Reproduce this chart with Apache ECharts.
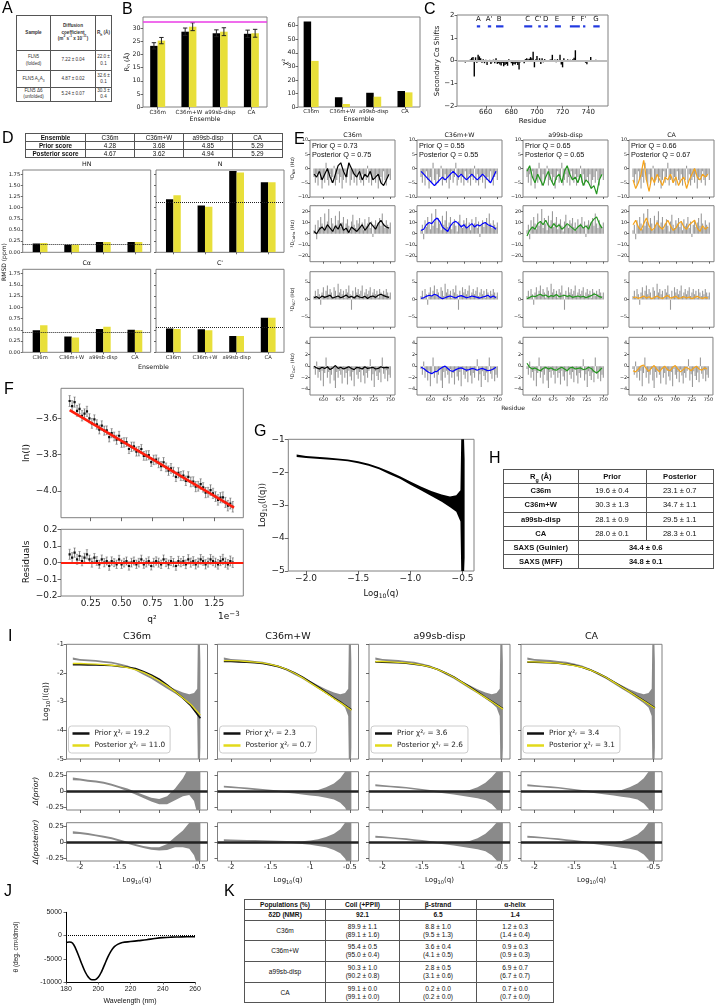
<!DOCTYPE html>
<html><head><meta charset="utf-8"><title>FLN5 ensemble figure</title>
<script src="https://cdn.jsdelivr.net/npm/echarts@6.0.0/dist/echarts.min.js"></script>
<style>
html,body{margin:0;padding:0;background:#fff;width:716px;height:1008px;overflow:hidden;}
#chart{position:absolute;left:0;top:0;width:716px;height:1008px;}
.plab{position:absolute;font-family:"Liberation Sans",Arial,sans-serif;font-size:16px;line-height:16px;color:#000;z-index:5;}
table.t{position:absolute;border-collapse:collapse;table-layout:fixed;font-family:"Liberation Sans",Arial,sans-serif;color:#111;background:#fff;z-index:5;}
table.t td{border:1px solid #555;text-align:center;vertical-align:middle;padding:0;overflow:hidden;white-space:nowrap;}
table.t sub, table.t sup{font-size:70%;line-height:0;}
</style></head>
<body>
<div id="chart"></div>
<div class="plab" style="left:2px;top:0px">A</div>
<div class="plab" style="left:122px;top:1px">B</div>
<div class="plab" style="left:424px;top:1px">C</div>
<div class="plab" style="left:2px;top:130px">D</div>
<div class="plab" style="left:294px;top:131px">E</div>
<div class="plab" style="left:4px;top:381px">F</div>
<div class="plab" style="left:254px;top:423px">G</div>
<div class="plab" style="left:489px;top:450px">H</div>
<div class="plab" style="left:8px;top:628px">I</div>
<div class="plab" style="left:4px;top:883px">J</div>
<div class="plab" style="left:224px;top:883px">K</div>
<table class="t" id="tA" style="left:16px;top:15px;width:95px;height:85px;font-size:4.6px;line-height:6.4px;color:#333;"></table>
<table class="t" id="tD" style="left:25px;top:133px;width:257px;height:23px;font-size:6.3px;line-height:7px;"></table>
<table class="t" id="tH" style="left:503px;top:469px;width:210px;height:99px;font-size:7.6px;line-height:9px;"></table>
<table class="t" id="tK" style="left:244px;top:899px;width:309px;height:104px;font-size:6.6px;line-height:8px;"></table>
<script>
// ================= DATA =================
const ensembles = ['C36m', 'C36m+W', 'a99sb-disp', 'CA'];
const catPos = [0, 1, 2, 3];

// A : diffusion table
const aHeader = ['Sample', 'Diffusion<br>coefficient<br>(m<sup>2</sup> s<sup>-1</sup> x 10<sup>-11</sup>)', 'R<sub>h</sub> (Å)'];
const aSamples = ['FLN5<br>(folded)', 'FLN5 A<sub>3</sub>A<sub>3</sub>', 'FLN5 Δ6<br>(unfolded)'];
const aDiff = ['7.22 ± 0.04', '4.87 ± 0.02', '5.24 ± 0.07'];
const aRh = ['22.0 ±<br>0.1', '32.6 ±<br>0.1', '30.3 ±<br>0.4'];

// B : hydrodynamic radius and chi2
const rhPrior = [23.3, 28.7, 28.1, 27.9];
const rhPriorErr = [1.2, 1.4, 1.3, 1.4];
const rhPost = [25.3, 30.6, 28.7, 28.1];
const rhPostErr = [1.2, 1.5, 1.5, 1.5];
const rhExpA3A3 = 32.6;
const chiPrior = [63.0, 7.2, 10.5, 11.8];
const chiPost = [34.0, 2.2, 7.6, 10.8];

// C : secondary C-alpha shifts
const csRes = [644,645,646,647,648,649,650,651,652,653,654,655,656,657,658,659,660,661,662,663,
  664,665,666,667,668,669,670,671,672,673,674,675,676,677,678,679,680,681,682,683,
  684,685,686,687,688,689,690,691,692,693,694,695,696,697,698,699,700,701,702,703,
  704,705,706,707,708,709,710,711,712,713,714,715,716,717,718,719,720,721,722,723,
  724,725,726,727,728,729,730,731,732,733,734,735,736,737,738,739,740,741,742,743,
  744,745,746,747,748];
const csVal = [-0.09,0,0,0,0.05,0.12,0.15,-0.70,0.14,-0.10,
  0.25,0.18,0.10,-0.10,0.06,-0.12,0.03,-0.20,-0.05,0.03,
  -0.15,-0.08,0.04,-0.12,0.10,-0.15,-0.12,-0.18,-0.22,-0.10,
  -0.25,-0.20,-0.15,-0.23,0.05,-0.05,-0.12,-0.22,-0.15,-0.18,
  -0.10,-0.20,-0.40,-0.08,0.02,-0.06,-0.12,0.06,0.10,0.05,
  0.08,0.15,0.10,0.38,-0.30,0.05,0.20,-0.07,0.10,-0.15,
  0.10,-0.08,0.06,-0.03,0,-0.04,0.03,0.06,0.25,-0.06,
  0.04,-0.08,0.06,0.02,0.25,-0.18,-0.30,0.10,-0.04,0,
  0.05,0,0.03,0,0.05,0.12,0.45,-0.05,0,-0.03,
  0,-0.03,0,-0.02,-0.10,-0.16,-0.05,0,0.15,0,
  0.02,0,0.03,0,0];
const ssNames = ['A', "A'", 'B', 'C', "C'", 'D', 'E', 'F', "F'", 'G'];
const ssLabelRes = [654.3, 662.6, 670.4, 692.8, 701.0, 706.8, 715.6, 728.3, 736.3, 746.0];
const ssStart = [653.0, 661.6, 668.0, 690.0, 701.0, 705.8, 714.0, 725.7, 736.0, 744.0];
const ssEnd = [655.6, 664.2, 673.8, 696.3, 703.0, 708.4, 718.7, 733.5, 737.8, 749.0];

// D : chemical shift RMSD
const dScorePrior = ['4.28', '3.68', '4.85', '5.29'];
const dScorePost = ['4.67', '3.62', '4.94', '5.29'];
const rmsdTitles = ['HN', 'N', 'Cα', "C'"];
const rmsdHNPrior = [0.20, 0.17, 0.23, 0.23], rmsdHNPost = [0.21, 0.17, 0.23, 0.23];
const rmsdNPrior = [1.19, 1.05, 1.82, 1.57], rmsdNPost = [1.28, 1.02, 1.79, 1.57];
const rmsdCAPrior = [0.49, 0.35, 0.52, 0.50], rmsdCAPost = [0.60, 0.33, 0.57, 0.49];
const rmsdCOPrior = [0.53, 0.51, 0.36, 0.77], rmsdCOPost = [0.52, 0.49, 0.36, 0.77];
const rmsdRef = [0.18, 1.12, 0.45, 0.545];

// E : RDCs
const rdcQPrior = [0.73, 0.55, 0.65, 0.66];
const rdcQPost = [0.75, 0.55, 0.65, 0.67];
const rdcResExp = [636,638,640,642,644,646,648,650,652,654,656,658,660,662,664,666,668,670,672,674,
  676,678,680,682,684,686,688,690,692,694,696,698,700,702,704,706,708,710,712,714,
  716,718,720,722,724,726,728,730,732,734,736,738,740,742,744,746,748,750];
const rdcResCalc = [636,640,644,648,652,656,660,664,668,672,676,680,684,688,692,696,700,704,708,712,
  716,720,724,728,732,736,740,744,748];
const expNH = [-3,-5,-2,-6,-1,-4,-7,-3,-5,2, -4,-6,-2,-5,-3,1,-6,-4,-2,-5, -3,-7,-4,-1,-5,-3,2,-6,-4,-2,
  -5,-3,-6,-1,-4,-5,-2,-6,-3,-4, 1,-5,-2,-6,-4,-3,-5,-2,-7,-4, -3,-5,-1,-4,-6,-3,-2,-4];
const expCH = [3,8,-5,12,6,15,9,4,18,7, 11,22,5,14,9,3,16,8,12,20, 6,10,15,4,9,13,7,2,11,17,
  8,5,12,9,14,6,10,3,13,7, 9,15,5,11,-3,8,12,6,10,14, 7,18,9,5,12,8,6,10];
const expNC = [1,2.5,0.5,3,1.5,-1.5,2,3.5,1,2.5, 4,1.5,3,2,0.5,3.5,2.5,1,4.5,2, 3,1.5,2.5,0.5,3,2,4,1.5,-3,2.5,
  1,3.5,2,3,1.5,2.5,4,1,2,3, 1.5,2.5,3.5,1,2,3,1.5,2.5,0.5,3, 2,1,2.5,1.5,3,2,1,2];
const expCC = [-0.5,-1.5,0.8,-2,-1,-2.5,-0.8,-3.5,-1.2,1.5, -2,-1,-3,-1.5,-0.5,-2.5,-3.8,-1,-2,-0.8,
  -1.5,-3,-0.5,-2,-1.2,-3.2,-0.8,-1.8,-2.5,-1, -3.5,-0.5,-1.5,-2.2,-1,-2.8,-0.6,-1.6,-3,-1.2,
  -2,-0.8,1.2,-2.5,-1.4,-3.6,-0.9,-1.7,-2.4,-1.1, -2.8,1.5,-1.3,-2.2,-0.7,-2.6,-1.5,-2];
const nhC36m = [-2,-3,-1,-4,-2,0,-3,-5,-2,1, 2,-1,-3,2,0,-2,-3,-1,-4,-2, -3,-1,-4,-3,-2,-5,-6,-4,-2];
const nhC36mW = [-1,-2,-3,-4,-5,-6,-5,-4,-3,-4, -3,-2,-1,-2,-3,-2,-3,-4,-3,-2, -3,-4,-3,-2,-3,-4,-5,-3,-1];
const nhA99 = [-1,1,-3,-5,-2,-4,-6,-3,-1,-4, -6,-3,-2,-5,-1,1,-2,-4,-3,-5, -2,-6,-4,-5,-7,-6,-9,-4,-2];
const nhCA = [-4,-7,-5,-2,3,-4,-8,-3,-5,-2, -4,-6,-3,-4,-2,-5,-3,-6,-4,-3, -7,-4,-2,0,-3,-4,-2,-3,-2];
const chC36m = [2,0,4,6,3,8,5,2,7,4, 9,3,5,1,6,4,2,5,8,3, 6,10,7,4,9,12,8,6,5];
const chC36mW = [3,4,8,10,9,12,14,11,6,4, 2,7,10,11,9,6,8,5,7,9, 6,8,7,9,10,8,7,6,4];
const chA99 = [-2,3,6,4,9,11,8,12,7,5, 9,6,8,4,6,9,7,5,3,6, 8,5,7,4,10,13,15,9,5];
const chCA = [8,12,6,3,9,14,7,3,5,10, 6,4,8,12,7,3,5,9,11,6, 4,8,10,12,5,2,7,4,6];
const ncC36m = [0.5,0.8,0.3,1,0.6,0.9,1.2,0.4,0.7,1, 0.5,0.8,1.3,0.6,0.9,0.4,1.1,0.7,0.5,0.9, 0.3,0.8,1,0.6,1.2,1.5,1.1,0.8,0.6];
const ncC36mW = [0.3,0.5,0.9,1.2,1.0,1.5,1.2,0.6,0.2,0.5, 0.8,1.0,0.7,0.4,0.9,1.1,0.8,0.5,0.7,1.0, 0.8,0.6,0.4,0.7,0.9,1.2,0.6,1.0,0.5];
const ncA99 = [0.2,0.6,1.0,0.8,1.2,1.5,1.0,1.3,0.7,1.1, 0.9,1.4,0.8,1.0,1.2,0.9,1.1,0.6,0.8,1.0, 0.7,0.9,0.5,0.8,1.1,1.6,1.3,0.8,0.6];
const ncCA = [0.5,0.7,0.3,0.6,1.0,0.4,0.8,0.2,0.6,1.0, 0.5,0.3,0.8,1.1,0.4,0.6,0.9,0.3,0.5,0.8, 0.4,0.7,0.2,0.6,0.9,0.5,0.3,0.6,0.4];
const ccC36m = [0,-0.3,-0.5,-0.2,-0.4,-0.1,-0.6,-0.3,0.1,-0.4, -0.2,-0.5,-0.3,-0.1,-0.4,-0.6,-0.2,-0.3,-0.5,-0.1, -0.4,-0.3,-0.2,-0.5,-0.4,-0.1,-0.3,-0.2,-0.3];
const ccC36mW = [-0.2,-0.4,-0.8,-1.1,-1.3,-1.0,-0.9,-0.5,-0.2,0, -0.4,-0.8,-0.9,-0.6,-0.4,-0.3,-0.5,-0.7,-0.6,-0.4, -0.5,-0.7,-0.5,-0.4,-0.6,-0.8,-0.7,-0.5,-0.2];
const ccA99 = [0.5,-0.2,-0.5,-0.3,-0.6,-0.8,-0.4,-0.2,-0.5,-0.3, -0.6,-0.7,-0.4,-0.2,-0.5,-0.8,-0.3,-0.2,-0.5,-0.4, -0.3,-0.6,-0.5,-0.2,-0.4,-0.9,-1.2,-0.8,-0.3];
const ccCA = [-0.8,-1.0,-0.5,0,0.2,-0.4,-0.9,-0.3,0.1,-0.5, -1.0,-0.4,0,-0.6,-0.8,-0.2,0.1,-0.5,-1.0,-0.6, -0.2,-0.4,-0.8,-0.3,0,-0.5,-0.7,-0.3,-0.5];

// F : Guinier plot
const fQ2 = [0.08,0.10,0.12,0.14,0.16,0.18,0.20,0.22,0.24,0.26,0.28,0.30,0.32,0.34,0.36,0.38,0.40,0.42,0.44,0.46,
  0.48,0.50,0.52,0.54,0.56,0.58,0.60,0.62,0.64,0.66,0.68,0.70,0.72,0.74,0.76,0.78,0.80,0.82,0.84,0.86,
  0.88,0.90,0.92,0.94,0.96,0.98,1.00,1.02,1.04,1.06,1.08,1.10,1.12,1.14,1.16,1.18,1.20,1.22,1.24,1.26,
  1.28,1.30,1.32,1.34,1.36,1.38,1.40];
const fLnI = [-3.505,-3.533,-3.511,-3.559,-3.548,-3.586,-3.574,-3.562,-3.600,-3.628,
  -3.606,-3.634,-3.662,-3.640,-3.668,-3.666,-3.704,-3.682,-3.700,-3.718,
  -3.696,-3.735,-3.733,-3.731,-3.769,-3.757,-3.755,-3.783,-3.781,-3.769,
  -3.807,-3.805,-3.803,-3.841,-3.829,-3.827,-3.845,-3.863,-3.842,-3.870,
  -3.888,-3.876,-3.894,-3.922,-3.900,-3.918,-3.916,-3.944,-3.922,-3.950,
  -3.948,-3.976,-3.974,-3.962,-3.980,-4.009,-4.007,-3.995,-4.013,-4.031,
  -4.049,-4.037,-4.035,-4.063,-4.081,-4.069,-4.087];
const fErr = [0.03,0.03,0.028,0.03,0.027,0.029,0.026,0.028,0.025,0.027,
  0.025,0.026,0.024,0.026,0.025,0.024,0.026,0.025,0.024,0.025,
  0.024,0.025,0.026,0.024,0.025,0.026,0.024,0.025,0.026,0.025,
  0.024,0.026,0.025,0.024,0.026,0.025,0.027,0.025,0.026,0.024,
  0.026,0.027,0.025,0.026,0.028,0.025,0.027,0.026,0.028,0.027,
  0.026,0.028,0.027,0.029,0.026,0.028,0.027,0.029,0.028,0.027,
  0.029,0.028,0.030,0.028,0.029,0.030,0.029];
const fRes = [0.05,0.03,0.06,0.02,0.04,0.01,0.03,0.05,0.02,0.0,
  0.03,0.01,-0.01,0.02,0.0,0.01,-0.02,0.01,0.0,-0.01,
  0.02,-0.01,0.0,0.01,-0.02,0.0,0.01,-0.01,0.0,0.02,
  -0.01,0.0,0.01,-0.02,0.0,0.01,0.0,-0.01,0.02,0.0,
  -0.01,0.01,0.0,-0.02,0.01,0.0,0.01,-0.01,0.02,0.0,
  0.01,-0.01,0.0,0.02,0.01,-0.01,0.0,0.02,0.01,0.0,
  -0.01,0.01,0.02,0.0,-0.01,0.01,0.0];
const fFitQ2 = [0.08, 1.41];
const fFitLnI = [-3.555, -4.091];

// G / I : SAXS data (log10 I vs log10 q), lower and upper envelope of the noisy data
const gQ = [-2.09,-2.0,-1.9,-1.8,-1.7,-1.6,-1.5,-1.4,-1.3,-1.2,-1.1,-1.0,-0.9,-0.8,-0.7,-0.62,-0.56,-0.52,-0.51,-0.49,-0.48];
const gLow = [-1.54,-1.57,-1.59,-1.61,-1.64,-1.67,-1.73,-1.80,-1.91,-2.06,-2.20,-2.38,-2.55,-2.72,-2.90,-3.06,-3.2,-3.5,-5.5,-5.5,-4.6];
const gHigh = [-1.46,-1.51,-1.53,-1.55,-1.58,-1.61,-1.67,-1.74,-1.85,-1.98,-2.12,-2.28,-2.43,-2.57,-2.68,-2.74,-2.70,-2.55,-0.5,-0.5,-1.6];

// I : model curves
const iq = [-2.09,-2.0,-1.9,-1.8,-1.7,-1.6,-1.5,-1.4,-1.3,-1.2,-1.1,-1.0,-0.9,-0.8,-0.7,-0.6,-0.48];
const iPriorC36m = [-1.71,-1.71,-1.72,-1.72,-1.73,-1.74,-1.77,-1.80,-1.85,-1.95,-2.07,-2.22,-2.42,-2.64,-2.88,-3.14,-3.58];
const iPostC36m = [-1.67,-1.67,-1.68,-1.69,-1.71,-1.73,-1.76,-1.81,-1.88,-1.98,-2.11,-2.27,-2.45,-2.65,-2.87,-3.10,-3.47];
const iPriorC36mW = [-1.60,-1.60,-1.61,-1.62,-1.64,-1.67,-1.72,-1.78,-1.87,-1.99,-2.14,-2.31,-2.49,-2.68,-2.87,-3.05,-3.28];
const iPostC36mW = [-1.57,-1.57,-1.58,-1.60,-1.62,-1.65,-1.70,-1.77,-1.87,-2.00,-2.16,-2.34,-2.52,-2.70,-2.89,-3.07,-3.30];
const iPriorA99 = [-1.61,-1.62,-1.63,-1.64,-1.66,-1.69,-1.73,-1.79,-1.88,-2.00,-2.14,-2.31,-2.48,-2.66,-2.85,-3.03,-3.25];
const iPostA99 = [-1.60,-1.60,-1.61,-1.63,-1.65,-1.68,-1.73,-1.79,-1.88,-2.00,-2.15,-2.32,-2.50,-2.68,-2.86,-3.04,-3.26];
const iPriorCA = [-1.62,-1.62,-1.63,-1.64,-1.66,-1.69,-1.73,-1.80,-1.89,-2.01,-2.15,-2.31,-2.48,-2.65,-2.83,-3.00,-3.22];
const iPostCA = [-1.61,-1.61,-1.62,-1.64,-1.66,-1.69,-1.74,-1.80,-1.89,-2.01,-2.15,-2.32,-2.49,-2.66,-2.84,-3.01,-3.23];
const iChiPrior = ['19.2', '2.3', '3.6', '3.4'];
const iChiPost = ['11.0', '0.7', '2.6', '3.1'];
// I : residuals (lower / upper envelope)
const rq = [-2.09,-2.0,-1.9,-1.8,-1.7,-1.6,-1.5,-1.4,-1.3,-1.2,-1.1,-1.0,-0.9,-0.8,-0.7,-0.62,-0.56,-0.52,-0.5,-0.48];
const dpC36mLo = [0.17,0.165,0.145,0.135,0.115,0.085,0.045,0.0,-0.05,-0.105,-0.16,-0.20,-0.20,-0.14,-0.08,-0.06,-0.15,-0.35,-0.6,-0.6];
const dpC36mHi = [0.21,0.195,0.175,0.165,0.145,0.115,0.075,0.04,-0.01,-0.055,-0.10,-0.12,-0.08,0.04,0.20,0.38,0.55,0.7,0.7,0.6];
const dqC36mLo = [0.13,0.125,0.11,0.09,0.07,0.045,0.01,-0.025,-0.06,-0.09,-0.115,-0.13,-0.12,-0.08,-0.08,-0.1,-0.2,-0.35,-0.6,-0.6];
const dqC36mHi = [0.17,0.155,0.14,0.12,0.10,0.075,0.04,0.005,-0.03,-0.06,-0.08,-0.08,-0.03,0.08,0.18,0.3,0.5,0.6,0.6,0.6];
const dpC36mWLo = [0.055,0.05,0.04,0.03,0.02,0.01,0.0,-0.012,-0.025,-0.035,-0.05,-0.065,-0.08,-0.1,-0.13,-0.18,-0.25,-0.35,-0.6,-0.6];
const dpC36mWHi = [0.085,0.075,0.065,0.055,0.045,0.035,0.022,0.01,0.0,-0.005,-0.01,0.0,0.02,0.06,0.12,0.2,0.3,0.5,0.6,0.6];
const dqC36mWLo = [0.015,0.015,0.012,0.01,0.008,0.005,0.0,-0.005,-0.01,-0.018,-0.028,-0.04,-0.06,-0.08,-0.12,-0.17,-0.25,-0.35,-0.6,-0.6];
const dqC36mWHi = [0.045,0.04,0.037,0.034,0.032,0.03,0.026,0.022,0.018,0.015,0.015,0.025,0.045,0.08,0.13,0.2,0.3,0.5,0.6,0.6];
const dpA99Lo = [0.075,0.07,0.06,0.05,0.04,0.025,0.01,-0.005,-0.02,-0.035,-0.05,-0.07,-0.09,-0.11,-0.14,-0.2,-0.28,-0.4,-0.6,-0.6];
const dpA99Hi = [0.105,0.095,0.085,0.075,0.065,0.05,0.035,0.02,0.005,-0.005,-0.01,0.0,0.02,0.06,0.13,0.22,0.3,0.5,0.6,0.6];
const dqA99Lo = [0.07,0.065,0.055,0.045,0.035,0.02,0.008,-0.008,-0.022,-0.035,-0.05,-0.07,-0.09,-0.11,-0.14,-0.2,-0.28,-0.4,-0.6,-0.6];
const dqA99Hi = [0.10,0.09,0.08,0.07,0.06,0.045,0.033,0.018,0.004,-0.005,-0.01,0.0,0.02,0.06,0.13,0.22,0.3,0.5,0.6,0.6];
const dpCALo = [0.075,0.07,0.06,0.05,0.04,0.025,0.01,-0.005,-0.02,-0.035,-0.05,-0.065,-0.085,-0.10,-0.13,-0.19,-0.27,-0.4,-0.6,-0.6];
const dpCAHi = [0.105,0.095,0.085,0.075,0.065,0.05,0.035,0.02,0.005,-0.005,-0.01,0.0,0.02,0.06,0.12,0.2,0.3,0.5,0.6,0.6];
const dqCALo = [0.07,0.065,0.055,0.045,0.035,0.02,0.008,-0.008,-0.022,-0.035,-0.05,-0.065,-0.085,-0.10,-0.13,-0.19,-0.27,-0.4,-0.6,-0.6];
const dqCAHi = [0.10,0.09,0.08,0.07,0.06,0.045,0.033,0.018,0.004,-0.005,-0.01,0.0,0.02,0.06,0.12,0.2,0.3,0.5,0.6,0.6];

// H : Rg table
const rgPrior = ['19.6 ± 0.4', '30.3 ± 1.3', '28.1 ± 0.9', '28.0 ± 0.1'];
const rgPost = ['23.1 ± 0.7', '34.7 ± 1.1', '29.5 ± 1.1', '28.3 ± 0.1'];
const rgSaxsNames = ['SAXS (Guinier)', 'SAXS (MFF)'];
const rgSaxsVals = ['34.4 ± 0.6', '34.8 ± 0.1'];

// J : CD spectrum
const cdWl = [180,182,184,186,188,190,192,194,196,198,200,202,204,206,208,210,212,215,220,225,230,235,240,245,250,255,260];
const cdTheta = [-1500,-1400,-1600,-2800,-4500,-6300,-7900,-9000,-9500,-9500,-9000,-7800,-6200,-4600,-3300,-2400,-1900,-1500,-1300,-1100,-900,-650,-450,-350,-300,-250,-250];

// K : populations table
const popHeader = ['Populations (%)', 'Coil (+PPII)', 'β-strand', 'α-helix'];
const popNmr = ['92.1', '6.5', '1.4'];
const popCoil = [['89.9 ± 1.1','(89.1 ± 1.6)'], ['95.4 ± 0.5','(95.0 ± 0.4)'], ['90.3 ± 1.0','(90.2 ± 0.8)'], ['99.1 ± 0.0','(99.1 ± 0.0)']];
const popBeta = [['8.8 ± 1.0','(9.5 ± 1.3)'], ['3.6 ± 0.4','(4.1 ± 0.5)'], ['2.8 ± 0.5','(3.1 ± 0.6)'], ['0.2 ± 0.0','(0.2 ± 0.0)']];
const popAlpha = [['1.2 ± 0.3','(1.4 ± 0.4)'], ['0.9 ± 0.3','(0.9 ± 0.3)'], ['6.9 ± 0.7','(6.7 ± 0.7)'], ['0.7 ± 0.0','(0.7 ± 0.0)']];

// ================= TABLES =================
(function buildTables(){
  const tA = document.getElementById('tA');
  let h = '<colgroup><col style="width:34px"><col style="width:45px"><col style="width:16px"></colgroup>';
  h += '<tr style="height:35px">' + aHeader.map(s => '<td><b>' + s + '</b></td>').join('') + '</tr>';
  const aH = [20, 17, 13];
  for (let i = 0; i < 3; i++) h += '<tr style="height:' + aH[i] + 'px"><td>' + aSamples[i] + '</td><td>' + aDiff[i] + '</td><td>' + aRh[i] + '</td></tr>';
  tA.innerHTML = h;

  const tD = document.getElementById('tD');
  h = '<colgroup><col style="width:60px"><col style="width:49px"><col style="width:49px"><col style="width:49px"><col style="width:50px"></colgroup>';
  h += '<tr style="height:7.6px"><td><b>Ensemble</b></td>' + ensembles.map(s => '<td>' + s + '</td>').join('') + '</tr>';
  h += '<tr style="height:7.6px"><td><b>Prior score</b></td>' + dScorePrior.map(s => '<td>' + s + '</td>').join('') + '</tr>';
  h += '<tr style="height:7.6px"><td><b>Posterior score</b></td>' + dScorePost.map(s => '<td>' + s + '</td>').join('') + '</tr>';
  tD.innerHTML = h;

  const tH = document.getElementById('tH');
  h = '<colgroup><col style="width:74.5px"><col style="width:68px"><col style="width:67.5px"></colgroup>';
  h += '<tr style="height:14.2px"><td><b>R<sub>g</sub> (Å)</b></td><td><b>Prior</b></td><td><b>Posterior</b></td></tr>';
  for (let i = 0; i < 4; i++) h += '<tr style="height:14.2px"><td><b>' + ensembles[i] + '</b></td><td>' + rgPrior[i] + '</td><td>' + rgPost[i] + '</td></tr>';
  for (let i = 0; i < 2; i++) h += '<tr style="height:14.2px"><td><b>' + rgSaxsNames[i] + '</b></td><td colspan="2"><b>' + rgSaxsVals[i] + '</b></td></tr>';
  tH.innerHTML = h;

  const tK = document.getElementById('tK');
  h = '<colgroup><col style="width:81px"><col style="width:74px"><col style="width:77px"><col style="width:77px"></colgroup>';
  h += '<tr style="height:10px">' + popHeader.map(s => '<td><b>' + s + '</b></td>').join('') + '</tr>';
  h += '<tr style="height:10.7px"><td><b>δ2D (NMR)</b></td>' + popNmr.map(s => '<td><b>' + s + '</b></td>').join('') + '</tr>';
  const kH = [20.7, 21, 20.6, 20.4];
  for (let i = 0; i < 4; i++) {
    h += '<tr style="height:' + kH[i] + 'px"><td>' + ensembles[i] + '</td>' +
      [popCoil[i], popBeta[i], popAlpha[i]].map(p => '<td>' + p[0] + '<br>' + p[1] + '</td>').join('') + '</tr>';
  }
  tK.innerHTML = h;
})();

// ================= CHART =================
const FONT = 'DejaVu Sans', ARIAL = 'Liberation Sans';
const YEL = '#e8df3a', YEL_LINE = '#e2da1a', MAG = '#ea3be6', GRAY_BAR = '#9a9a9a', GRAY_BAND = '#8a8a8a', SS_BLUE = '#2038e0';
const RDC_COLORS = ['#000000', '#0000ff', '#23961e', '#f5a31a'];
const grids = [], xAxes = [], yAxes = [], series = [], graphics = [], legends = [];

function addGrid(o) {
  const i = grids.length;
  const frame = o.frame !== false;
  grids.push({left: o.left, top: o.top, width: o.width, height: o.height, show: frame,
    borderColor: '#808080', borderWidth: 1, backgroundColor: 'rgba(0,0,0,0)'});
  const mk = (min, max, ticks, labels) => {
    const ax = {type: 'value', gridIndex: i, min: min, max: max,
      axisLine: {show: !frame, onZero: false, lineStyle: {color: '#000', width: 1}},
      splitLine: {show: false},
      axisTick: {show: !!ticks, length: o.tl || 2.5, inside: false, lineStyle: {color: '#444', width: 0.8}},
      axisLabel: {show: !!labels, fontSize: o.fs || 7, fontFamily: o.font || FONT, color: '#222', margin: o.lm || 2.5}};
    if (ticks) { ax.axisTick.customValues = ticks; ax.axisLabel.customValues = ticks; }
    if (labels) ax.axisLabel.formatter = v => { const k = ticks.findIndex(t => Math.abs(t - v) < 1e-9); return k >= 0 ? labels[k] : ''; };
    return ax;
  };
  xAxes.push(mk(o.x[0], o.x[1], o.xt, o.xl));
  yAxes.push(mk(o.y[0], o.y[1], o.yt, o.yl));
  if (o.xfs) xAxes[i].axisLabel.fontSize = o.xfs;
  return i;
}
function base(gi) { return {xAxisIndex: gi, yAxisIndex: gi, silent: true, animation: false}; }
function rectBars(gi, xs, ys, side, w, color) {
  return Object.assign(base(gi), {type: 'custom', clip: true, z: 2, data: xs.map((x, k) => [x, ys[k]]),
    renderItem: (p, api) => {
      const t = api.coord([api.value(0), api.value(1)]), b = api.coord([api.value(0), 0]);
      return {type: 'rect', shape: {x: t[0] + side * w, y: Math.min(t[1], b[1]), width: w, height: Math.abs(b[1] - t[1])}, style: {fill: color}};
    }});
}
function errBars(gi, xs, ys, es, dx, color) {
  return Object.assign(base(gi), {type: 'custom', z: 3, data: xs.map((x, k) => [x, ys[k], es[k]]),
    renderItem: (p, api) => {
      const x = api.value(0), y = api.value(1), e = api.value(2);
      const lo = api.coord([x, y - e]), hi = api.coord([x, y + e]); const cx = lo[0] + dx;
      const st = {stroke: color, lineWidth: 1};
      return {type: 'group', children: [
        {type: 'line', shape: {x1: cx, y1: lo[1], x2: cx, y2: hi[1]}, style: st},
        {type: 'line', shape: {x1: cx - 2.2, y1: lo[1], x2: cx + 2.2, y2: lo[1]}, style: st},
        {type: 'line', shape: {x1: cx - 2.2, y1: hi[1], x2: cx + 2.2, y2: hi[1]}, style: st}]};
    }});
}
function sticks(gi, xs, ys, color, lw) {
  return Object.assign(base(gi), {type: 'custom', clip: true, z: 2, data: xs.map((x, k) => [x, ys[k]]),
    renderItem: (p, api) => {
      const t = api.coord([api.value(0), api.value(1)]), b = api.coord([api.value(0), 0]);
      return {type: 'line', shape: {x1: t[0], y1: b[1], x2: t[0], y2: t[1]}, style: {stroke: color, lineWidth: lw}};
    }});
}
function band(gi, xs, lo, hi, color) {
  return Object.assign(base(gi), {type: 'custom', clip: true, z: 1, data: [[xs[0], lo[0]]],
    renderItem: (p, api) => {
      const pts = [];
      for (let k = 0; k < xs.length; k++) pts.push(api.coord([xs[k], hi[k]]));
      for (let k = xs.length - 1; k >= 0; k--) pts.push(api.coord([xs[k], lo[k]]));
      return {type: 'polygon', shape: {points: pts}, style: {fill: color}};
    }});
}
function line(gi, xs, ys, color, lw, name, extra) {
  const s = Object.assign(base(gi), {type: 'line', data: xs.map((x, k) => [x, ys[k]]), showSymbol: false, symbol: 'none',
    clip: true, z: 3, lineStyle: {color: color, width: lw}, itemStyle: {color: color}});
  if (name) s.name = name;
  return Object.assign(s, extra || {});
}
function hline(gi, v, color, w, type) {
  return Object.assign(base(gi), {type: 'line', data: [], z: 4,
    markLine: {silent: true, symbol: ['none', 'none'], animation: false, label: {show: false},
      lineStyle: {color: color, width: w, type: type || 'solid'}, emphasis: {disabled: true}, data: [{yAxis: v}]}});
}
function segs(gi, x0s, x1s, y, color, w) {
  return Object.assign(base(gi), {type: 'custom', z: 3, data: x0s.map((x, k) => [x, y, x1s[k]]),
    renderItem: (p, api) => {
      const a = api.coord([api.value(0), api.value(1)]), b = api.coord([api.value(2), api.value(1)]);
      return {type: 'line', shape: {x1: a[0], y1: a[1], x2: b[0], y2: b[1]}, style: {stroke: color, lineWidth: w}};
    }});
}
function textMarks(gi, xs, y, names, fs) {
  return Object.assign(base(gi), {type: 'custom', z: 3, data: xs.map(x => [x, y]),
    renderItem: (p, api) => {
      const c = api.coord([api.value(0), api.value(1)]);
      return {type: 'text', x: c[0], y: c[1], style: {text: names[p.dataIndex], fill: '#111', fontSize: fs, fontFamily: FONT,
        textAlign: 'center', textVerticalAlign: 'middle', align: 'center', verticalAlign: 'middle'}};
    }});
}
function errPoints(gi, xs, ys, es) {
  return Object.assign(base(gi), {type: 'custom', clip: true, z: 2, data: xs.map((x, k) => [x, ys[k], es[k]]),
    renderItem: (p, api) => {
      const x = api.value(0), y = api.value(1), e = api.value(2);
      const lo = api.coord([x, y - e]), hi = api.coord([x, y + e]), c = api.coord([x, y]);
      return {type: 'group', children: [
        {type: 'line', shape: {x1: c[0], y1: lo[1], x2: c[0], y2: hi[1]}, style: {stroke: 'rgba(90,90,90,0.75)', lineWidth: 1}},
        {type: 'line', shape: {x1: c[0] - 1.2, y1: lo[1], x2: c[0] + 1.2, y2: lo[1]}, style: {stroke: 'rgba(90,90,90,0.6)', lineWidth: 0.8}},
        {type: 'line', shape: {x1: c[0] - 1.2, y1: hi[1], x2: c[0] + 1.2, y2: hi[1]}, style: {stroke: 'rgba(90,90,90,0.6)', lineWidth: 0.8}},
        {type: 'rect', shape: {x: c[0] - 1.1, y: c[1] - 1.1, width: 2.2, height: 2.2}, style: {fill: '#111'}}]};
    }});
}
function txt(x, y, text, fs, o) {
  o = o || {};
  const st = {text: text, fill: o.color || '#111', fontSize: fs, fontFamily: o.font || FONT,
    fontStyle: o.italic ? 'italic' : 'normal', fontWeight: o.bold ? 'bold' : 'normal',
    textAlign: o.align || 'center', textVerticalAlign: o.va || 'middle', align: o.align || 'center', verticalAlign: o.va || 'middle'};
  if (o.sub) {
    st.lineHeight = fs * 1.35;
    st.rich = {s: {fontSize: fs * 0.72, fontFamily: o.font || FONT, fontStyle: st.fontStyle, lineHeight: fs * 0.8, verticalAlign: 'bottom', fill: st.fill}};
  }
  if (o.bg) { st.backgroundColor = o.bg; st.padding = o.pad || [1, 2]; st.lineHeight = o.lh || fs * 1.2; }
  graphics.push({type: 'text', x: x, y: y, rotation: o.rot || 0, z: 50, silent: true, style: st});
}
const ROT = Math.PI / 2;

// ---------- B ----------
const gB1 = addGrid({left: 143, top: 17, width: 124, height: 90, x: [-0.47, 3.5], y: [0, 34.3],
  xt: catPos, xl: ensembles, yt: [0, 5, 10, 15, 20, 25, 30], yl: ['0', '5', '10', '15', '20', '25', '30'], fs: 6.3, xfs: 5.6});
series.push(rectBars(gB1, catPos, rhPrior, -1, 7.5, '#000'));
series.push(rectBars(gB1, catPos, rhPost, 0, 7.5, YEL));
series.push(errBars(gB1, catPos, rhPrior, rhPriorErr, -3.75, '#222'));
series.push(errBars(gB1, catPos, rhPost, rhPostErr, 3.75, '#222'));
series.push(hline(gB1, rhExpA3A3, MAG, 1.5));
const gB2 = addGrid({left: 298, top: 17, width: 122, height: 90, x: [-0.42, 3.48], y: [0, 66.4],
  xt: catPos, xl: ensembles, yt: [0, 10, 20, 30, 40, 50, 60], yl: ['0', '10', '20', '30', '40', '50', '60'], fs: 6.3, xfs: 5.4});
series.push(rectBars(gB2, catPos, chiPrior, -1, 7.5, '#000'));
series.push(rectBars(gB2, catPos, chiPost, 0, 7.5, YEL));
txt(205, 119, 'Ensemble', 6.3);
txt(359, 119, 'Ensemble', 6.3);
txt(127, 62, 'R{s|h} (Å)', 6.3, {rot: ROT, sub: true});
txt(285, 62, 'χ²', 7, {rot: ROT});

// ---------- C ----------
const gC = addGrid({left: 457, top: 15, width: 151, height: 91, x: [637.5, 755.5], y: [-2, 2],
  xt: [660, 680, 700, 720, 740], xl: ['660', '680', '700', '720', '740'], yt: [-2, -1, 0, 1, 2], yl: ['\u22122', '\u22121', '0', '1', '2'], fs: 7});
series.push(hline(gC, 0, '#bdbdbd', 2));
series.push(sticks(gC, csRes, csVal, '#000', 1.4));
series.push(segs(gC, ssStart, ssEnd, 1.5, SS_BLUE, 2.2));
series.push(textMarks(gC, ssLabelRes, 1.8, ssNames, 7));
txt(532.5, 121.5, 'Residue', 7);
txt(437, 61, 'Secondary Cα Shifts', 7, {rot: ROT});

// ---------- D ----------
const rmsdPrior = [rmsdHNPrior, rmsdNPrior, rmsdCAPrior, rmsdCOPrior];
const rmsdPost = [rmsdHNPost, rmsdNPost, rmsdCAPost, rmsdCOPost];
const dLeft = [22.7, 156], dTop = [170, 269.3], dHeight = [82.3, 83];
const dYT = [0, 0.25, 0.5, 0.75, 1.0, 1.25, 1.5, 1.75];
const dYL = ['0.00', '0.25', '0.50', '0.75', '1.00', '1.25', '1.50', '1.75'];
for (let k = 0; k < 4; k++) {
  const r = Math.floor(k / 2), c = k % 2;
  const gi = addGrid({left: dLeft[c], top: dTop[r], width: 128, height: dHeight[r], x: [-0.55, 3.5], y: [0, 1.845],
    xt: catPos, xl: r === 1 ? ensembles : null, yt: dYT, yl: c === 0 ? dYL : null, fs: 5.2, tl: 2});
  series.push(rectBars(gi, catPos, rmsdPrior[k], -1, 7.4, '#000'));
  series.push(rectBars(gi, catPos, rmsdPost[k], 0, 7.4, YEL));
  series.push(hline(gi, rmsdRef[k], '#222', 1, 'dotted'));
  txt(dLeft[c] + 64, dTop[r] - 6, rmsdTitles[k], 6.3);
}
txt(153.5, 367, 'Ensemble', 6.3);
txt(4, 262, 'RMSD (ppm)', 6, {rot: ROT});

// ---------- E ----------
const rdcExp = [expNH, expCH, expNC, expCC];
const rdcCalc = [[nhC36m, nhC36mW, nhA99, nhCA], [chC36m, chC36mW, chA99, chCA], [ncC36m, ncC36mW, ncA99, ncCA], [ccC36m, ccC36mW, ccA99, ccCA]];
const rdcYRange = [[-10, 10], [-25, 25], [-8, 8], [-5, 5]];
const rdcYT = [[-10, -5, 0, 5, 10], [-20, -10, 0, 10, 20], [-5, 0, 5], [-4, -2, 0, 2, 4]];
const rdcYL = [['\u221210', '\u22125', '0', '5', '10'], ['\u221220', '\u221210', '0', '10', '20'], ['\u22125', '0', '5'], ['\u22124', '\u22122', '0', '2', '4']];
const rdcXT = [650, 675, 700, 725, 750], rdcXL = ['650', '675', '700', '725', '750'];
const rdcLabels = ['¹D{s|NH} (Hz)', '¹D{s|CαHα} (Hz)', "¹D{s|NC'} (Hz)", "¹D{s|CαC'} (Hz)"];
const eLeft = [310, 417, 523, 629], eTop = [140, 205.7, 271.7, 337.3], eHeight = [57, 56, 55.5, 57.7];
for (let r = 0; r < 4; r++) {
  for (let c = 0; c < 4; c++) {
    const gi = addGrid({left: eLeft[c], top: eTop[r], width: 85, height: eHeight[r], x: [630, 757], y: rdcYRange[r],
      xt: rdcXT, xl: r === 3 ? rdcXL : null, yt: rdcYT[r], yl: rdcYL[r], fs: 4.9, tl: 2, lm: 1.8});
    series.push(sticks(gi, rdcResExp, rdcExp[r], GRAY_BAR, 1.1));
    series.push(line(gi, rdcResCalc, rdcCalc[r][c], RDC_COLORS[c], 1.2));
  }
  txt(293, eTop[r] + eHeight[r] / 2, rdcLabels[r], 5, {rot: ROT, sub: true});
}
for (let c = 0; c < 4; c++) {
  txt(eLeft[c] + 42.5, 135, ensembles[c], 6.3);
  txt(eLeft[c] + 1, 141, 'Prior Q = ' + rdcQPrior[c].toFixed(2) + '\nPosterior Q = ' + rdcQPost[c].toFixed(2), 7.3,
    {font: ARIAL, align: 'left', va: 'top', bg: '#fff', pad: [1, 2, 1, 1], lh: 8.6});
}
txt(513, 408, 'Residue', 6);

// ---------- F ----------
const fXT = [0.25, 0.5, 0.75, 1.0, 1.25];
const gF1 = addGrid({left: 61, top: 388.3, width: 182.3, height: 129.4, x: [0.01, 1.485], y: [-4.147, -3.435],
  xt: fXT, xl: null, yt: [-4.0, -3.8, -3.6], yl: ['\u22124.0', '\u22123.8', '\u22123.6'], fs: 9, tl: 3.5, lm: 3.5});
series.push(errPoints(gF1, fQ2, fLnI, fErr));
series.push(line(gF1, fFitQ2, fFitLnI, '#ff1d0c', 2.6, null, {z: 5}));
const gF2 = addGrid({left: 61, top: 529.3, width: 182.3, height: 66.7, x: [0.01, 1.485], y: [-0.2, 0.2],
  xt: fXT, xl: ['0.25', '0.50', '0.75', '1.00', '1.25'], yt: [-0.2, -0.1, 0, 0.1, 0.2], yl: ['\u22120.2', '\u22120.1', '0.0', '0.1', '0.2'], fs: 9, tl: 3.5, lm: 3.5});
series.push(errPoints(gF2, fQ2, fRes, fErr));
series.push(hline(gF2, 0, '#ff1d0c', 2));
txt(27, 453, 'ln(I)', 9, {rot: ROT});
txt(27, 562, 'Residuals', 9, {rot: ROT});
txt(152, 620, 'q²', 9);
graphics.push({type: 'text', x: 218, y: 617, z: 50, silent: true,
  style: {text: '1e{u|\u22123}', fill: '#111', fontSize: 9, fontFamily: FONT, textAlign: 'left', textVerticalAlign: 'middle', align: 'left', verticalAlign: 'middle',
    lineHeight: 13, rich: {u: {fontSize: 7, fontFamily: FONT, lineHeight: 7, verticalAlign: 'top', fill: '#111'}}}});

// ---------- G ----------
const qXT = [-2, -1.5, -1, -0.5];
const gG = addGrid({left: 288.3, top: 439.3, width: 185.7, height: 131.7, x: [-2.17, -0.39], y: [-5, -1],
  xt: qXT, xl: ['\u22122.0', '\u22121.5', '\u22121.0', '\u22120.5'], yt: [-5, -4, -3, -2, -1], yl: ['\u22125', '\u22124', '\u22123', '\u22122', '\u22121'], fs: 9, tl: 3.5, lm: 3.5});
series.push(band(gG, gQ, gLow, gHigh, '#000'));
txt(263, 505, 'Log{s|10}(I(q))', 8.5, {rot: ROT, sub: true});
txt(381, 594, 'Log{s|10}(q)', 8.5, {sub: true});

// ---------- I ----------
const iPrior = [iPriorC36m, iPriorC36mW, iPriorA99, iPriorCA];
const iPost = [iPostC36m, iPostC36mW, iPostA99, iPostCA];
const dpLo = [dpC36mLo, dpC36mWLo, dpA99Lo, dpCALo], dpHi = [dpC36mHi, dpC36mWHi, dpA99Hi, dpCAHi];
const dqLo = [dqC36mLo, dqC36mWLo, dqA99Lo, dqCALo], dqHi = [dqC36mHi, dqC36mWHi, dqA99Hi, dqCAHi];
const iLeft = [66.5, 217.5, 369, 521], iW = 141;
const iMainTop = 644.3, iMainH = 114.7, iDpTop = 771.7, iDqTop = 822.7, iDH = 38.3;
for (let c = 0; c < 4; c++) {
  const gm = addGrid({left: iLeft[c], top: iMainTop, width: iW, height: iMainH, x: [-2.17, -0.39], y: [-5, -1],
    xt: qXT, xl: null, yt: [-5, -4, -3, -2, -1], yl: c === 0 ? ['-5', '-4', '-3', '-2', '-1'] : null, fs: 7, tl: 3});
  series.push(band(gm, gQ, gLow, gHigh, GRAY_BAND));
  const pn = 'Prior χ²ᵣ = ' + iChiPrior[c], qn = 'Posterior χ²ᵣ = ' + iChiPost[c];
  series.push(line(gm, iq, iPrior[c], '#111', 1.7, pn));
  series.push(line(gm, iq, iPost[c], YEL_LINE, 1.3, qn, {z: 4}));
  legends.push({left: iLeft[c] + 2, top: iMainTop + iMainH - 33, orient: 'vertical', data: [pn, qn], icon: 'rect',
    itemWidth: 17, itemHeight: 2.5, itemGap: 5, selectedMode: false, textStyle: {fontSize: 7.3, fontFamily: FONT, color: '#222'},
    backgroundColor: '#fff', borderColor: '#cccccc', borderWidth: 1, borderRadius: 3, padding: [4, 5, 4, 4]});
  const gp = addGrid({left: iLeft[c], top: iDpTop, width: iW, height: iDH, x: [-2.17, -0.39], y: [-0.29, 0.3],
    xt: qXT, xl: null, yt: [-0.25, 0, 0.25], yl: c === 0 ? ['-0.25', '0', '0.25'] : null, fs: 7, tl: 3});
  series.push(band(gp, rq, dpLo[c], dpHi[c], GRAY_BAND));
  series.push(hline(gp, 0, '#222', 2.5));
  const gq = addGrid({left: iLeft[c], top: iDqTop, width: iW, height: iDH, x: [-2.17, -0.39], y: [-0.29, 0.3],
    xt: qXT, xl: ['-2', '-1.5', '-1', '-0.5'], yt: [-0.25, 0, 0.25], yl: c === 0 ? ['-0.25', '0', '0.25'] : null, fs: 7, tl: 3});
  series.push(band(gq, rq, dqLo[c], dqHi[c], GRAY_BAND));
  series.push(hline(gq, 0, '#222', 2.5));
  txt(iLeft[c] + iW / 2, 636.7, ensembles[c], 9.5);
  txt(iLeft[c] + iW / 2, 880, 'Log{s|10}(q)', 7, {sub: true});
}
txt(46, 701.5, 'Log{s|10}(I(q))', 7.5, {rot: ROT, sub: true});
txt(36, 791, 'Δ(prior)', 7.5, {rot: ROT, italic: true});
txt(36, 842, 'Δ(posterior)', 7.5, {rot: ROT, italic: true});

// ---------- J ----------
const gJ = addGrid({left: 66, top: 912.3, width: 129, height: 69.7, x: [180, 260], y: [-10000, 5000],
  xt: [180, 200, 220, 240, 260], xl: ['180', '200', '220', '240', '260'], yt: [-10000, -5000, 0, 5000], yl: ['-10000', '-5000', '0', '5000'],
  fs: 7, font: ARIAL, frame: false, tl: 2.5, lm: 4});
series.push(hline(gJ, 0, '#000', 1, 'dotted'));
series.push(line(gJ, cdWl, cdTheta, '#000', 1.6, null, {smooth: 0.35}));
txt(16, 947, 'θ (deg. cm²/dmol)', 6.5, {rot: ROT, font: ARIAL});
txt(130, 1001, 'Wavelength (nm)', 7, {font: ARIAL});

// ---------- render ----------
const chart = echarts.init(document.getElementById('chart'), null, {renderer: 'canvas', width: 716, height: 1008});
chart.setOption({animation: false, backgroundColor: '#fff', textStyle: {fontFamily: FONT},
  grid: grids, xAxis: xAxes, yAxis: yAxes, series: series, legend: legends, graphic: graphics});
</script>
</body></html>
